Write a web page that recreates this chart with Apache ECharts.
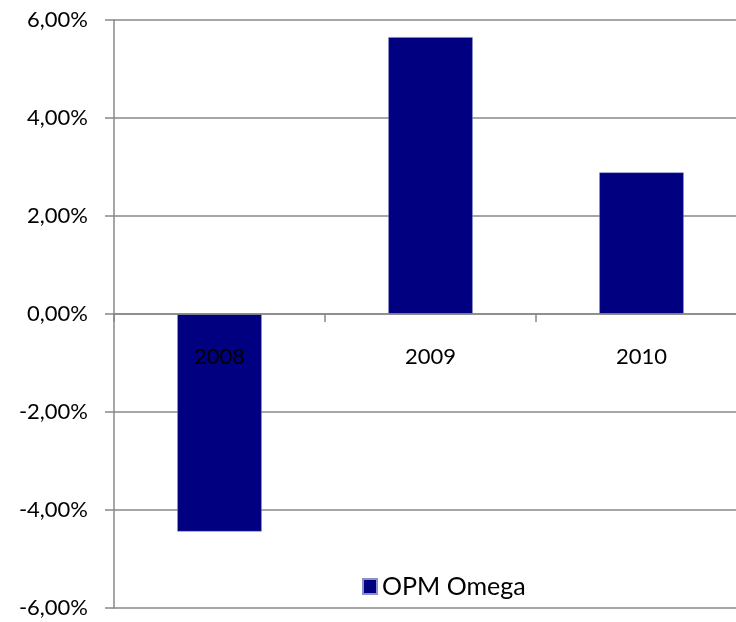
<!DOCTYPE html>
<html><head><meta charset="utf-8">
<script src="https://cdn.jsdelivr.net/npm/echarts@6/dist/echarts.min.js"></script>
<style>html,body{margin:0;padding:0;background:#fff}#c{width:736px;height:622px}</style>
</head><body><div id="c"></div>
<script>
const categories = ["2008", "2009", "2010"];
const seriesName = "OPM Omega";
const values = [-4.44, 5.65, 2.89];
const yTicks = { min: -6, max: 6, interval: 2 };

const chart = echarts.init(document.getElementById('c'), null, { renderer: 'canvas' });
const font = 'Lato';
const gridTop = 20, gridBottom = 14;
const plotH = 622 - gridTop - gridBottom;
const zeroOffset = -plotH * (0 - yTicks.min) / (yTicks.max - yTicks.min);
chart.setOption({
  animation: false,
  backgroundColor: '#fff',
  grid: { left: 114, right: -11, top: gridTop, bottom: gridBottom, containLabel: false, outerBoundsMode: 'none' },
  legend: {
    data: [seriesName], left: 357, top: 569, itemWidth: 14, itemHeight: 15, itemGap: 6,
    icon: 'rect',
    textStyle: { fontFamily: font, fontSize: 25, color: '#000' }
  },
  xAxis: {
    type: 'category', data: categories, z: 5, position: 'bottom', offset: zeroOffset,
    axisLine: { onZero: false, lineStyle: { color: '#888', width: 1.5 } },
    axisTick: { show: true, length: 8, lineStyle: { color: '#888', width: 1.5 } },
    axisLabel: { margin: 32, fontFamily: font, fontSize: 22, color: '#000' },
    splitLine: { show: false }
  },
  yAxis: {
    type: 'value', min: yTicks.min, max: yTicks.max, interval: yTicks.interval,
    axisLine: { show: true, lineStyle: { color: '#888', width: 1.5 } },
    axisTick: { show: true, length: 9, inside: false, lineStyle: { color: '#888', width: 1.5 } },
    axisLabel: { margin: 26, fontFamily: font, fontSize: 22, color: '#000',
      formatter: v => v.toFixed(2).replace('.', ',') + '%' },
    splitLine: { show: true, lineStyle: { color: '#888', width: 1.5 } }
  },
  series: [{
    name: seriesName, type: 'bar', data: values, barCategoryGap: '60%',
    itemStyle: { color: '#000080', borderColor: '#8f8fc8', borderWidth: 0.5 }
  }]
});
</script></body></html>
